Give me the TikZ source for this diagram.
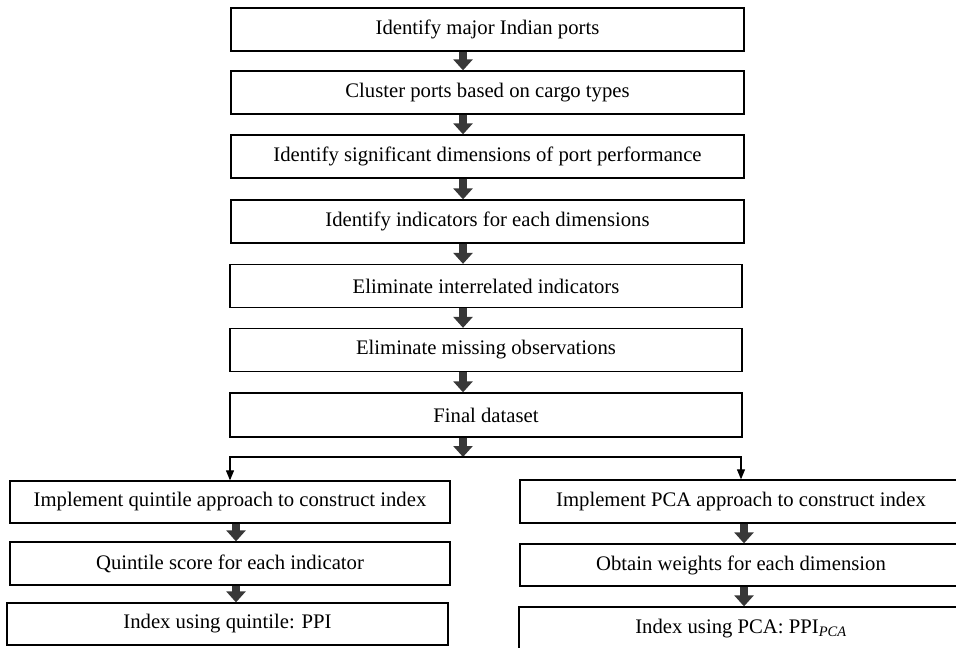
\documentclass[tikz,border=0pt]{standalone}
\usepackage{fontspec}
\setmainfont{Liberation Serif}
\usetikzlibrary{arrows.meta}
\definecolor{arrowgray}{HTML}{383838}
\begin{document}
\begin{tikzpicture}[x=1pt,y=-1pt,
  box/.style={draw=black, line width=1.3pt, rectangle, inner sep=0pt,
    font=\fontsize{20.7}{24}\selectfont, anchor=center},
  topbox/.style={box, minimum width=513pt, minimum height=43pt},
  leftbox/.style={box, minimum width=440pt, minimum height=43pt},
  rightbox/.style={box, minimum width=442pt, minimum height=43pt},
  blockarrow/.style={draw=arrowgray, line width=8pt,
    -{Triangle[width=19pt,length=11pt]}, arrowgray},
  branch/.style={draw=black, line width=1.1pt, -{Triangle[width=8pt,length=10pt]}},
]
\useasboundingbox (0,0) rectangle (956,648);
\clip (0,0) rectangle (956,648);

% main column
\node[topbox] (b1) at (487.5,29.5) {Identify major Indian ports};
\node[topbox] (b2) at (487.5,92.5) {Cluster ports based on cargo types};
\node[topbox] (b3) at (487.5,156.5) {Identify significant dimensions of port performance};
\node[topbox] (b4) at (487.5,221.5) {Identify indicators for each dimensions};
\node[topbox, minimum width=512pt] (b5) at (486,286) {Eliminate interrelated indicators};
\node[topbox, minimum width=512pt] (b6) at (486,350) {Eliminate missing observations};
\node[topbox, minimum width=512pt, minimum height=44pt] (b7) at (486,415) {Final dataset};

% left branch
\node[leftbox, minimum height=42pt] (l1) at (230,502) {Implement quintile approach to construct index};
\node[leftbox] (l2) at (230,563.5) {Quintile score for each indicator};
\node[leftbox, minimum width=441pt, minimum height=42pt] (l3) at (227.5,624) {Index using quintile: PPI};

% right branch
\node[rightbox] (r1) at (741,501.5) {Implement PCA approach to construct index};
\node[rightbox, minimum height=42pt] (r2) at (741,565) {Obtain weights for each dimension};
\node[rightbox, minimum width=444pt] (r3) at (741,628.5) {Index using PCA: PPI\textsubscript{\textit{PCA}}};

% axes for arrows
\coordinate (ax) at (463,0);
\coordinate (lx) at (236,0);
\coordinate (rx) at (744,0);
\coordinate (split) at (463,457);

\draw[blockarrow] (b1.south -| ax) -- (b2.north -| ax);
\draw[blockarrow] (b2.south -| ax) -- (b3.north -| ax);
\draw[blockarrow] (b3.south -| ax) -- (b4.north -| ax);
\draw[blockarrow] (b4.south -| ax) -- (b5.north -| ax);
\draw[blockarrow] (b5.south -| ax) -- (b6.north -| ax);
\draw[blockarrow] (b6.south -| ax) -- (b7.north -| ax);
\draw[blockarrow] (b7.south -| ax) -- (split);

\draw[branch] (split) -| (l1.north);
\draw[branch] (split) -| (r1.north);

\draw[blockarrow] (l1.south -| lx) -- (l2.north -| lx);
\draw[blockarrow] (l2.south -| lx) -- (l3.north -| lx);
\draw[blockarrow] (r1.south -| rx) -- (r2.north -| rx);
\draw[blockarrow] (r2.south -| rx) -- (r3.north -| rx);
\end{tikzpicture}
\end{document}
